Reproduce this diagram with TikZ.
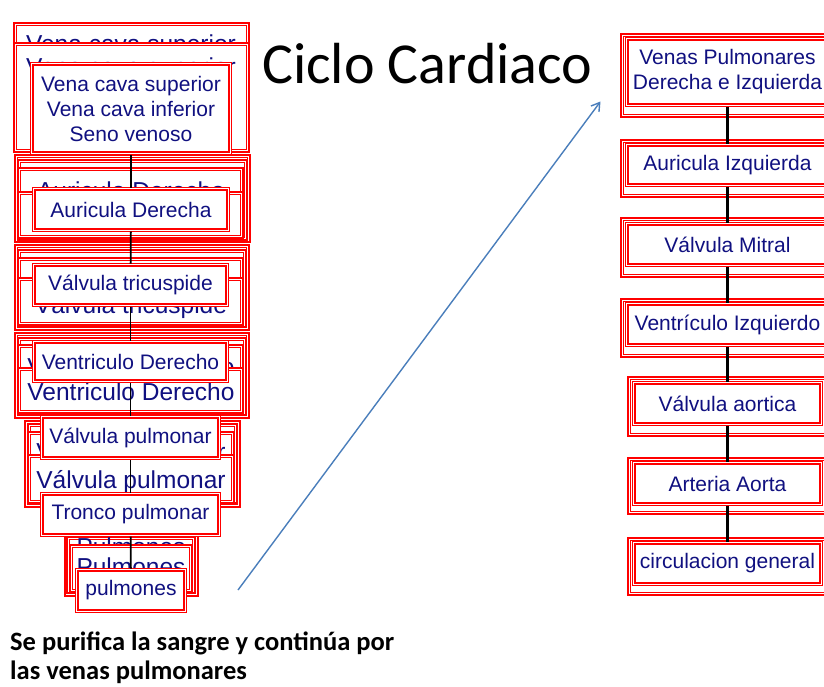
\documentclass[tikz,border=0pt]{standalone}
\usepackage{fontspec}
\setmainfont{Liberation Sans}
\newfontfamily\calibri{Carlito}
\usetikzlibrary{arrows.meta,fit}
\definecolor{boxred}{RGB}{255,0,0}
\definecolor{navytext}{RGB}{16,16,128}
\definecolor{arrowblue}{RGB}{74,126,187}
\newcommand\ghostrect[5]{%
  \node[ghostbox, fit={(#2,#3) (#4,#5)}] (#1) {};
  \node[ghostin, fit=(#1)] (#1-in) {};}
\newcommand\mainnode[5]{%
  \node[mainbox, minimum width=#3, minimum height=#4] (#1) at #2 {#5};
  \node[innerframe, fit=(#1)] (#1-in) {};}
\begin{document}
\begin{tikzpicture}[x=1pt,y=-1pt,
  ghostbox/.style={rectangle, draw=boxred, line width=1.2pt, fill=white, inner sep=0pt, outer sep=0pt},
  ghostin/.style={rectangle, draw=boxred, line width=1.2pt, inner sep=-2.5pt, outer sep=0pt},
  mainbox/.style={rectangle, draw=boxred, line width=1.2pt, fill=white, outer sep=0pt,
    text=navytext, font=\fontsize{21}{25}\selectfont, align=center, inner sep=0pt},
  innerframe/.style={rectangle, draw=boxred, line width=2pt, inner sep=-2.8pt, outer sep=0pt},
  ghosttext/.style={text=navytext, font=\fontsize{24.5}{29}\selectfont, anchor=base, inner sep=0pt},
  linkL/.style={draw=black, line width=1.8pt},
  linkR/.style={draw=black, line width=2.4pt},
]
\useasboundingbox (0,0) rectangle (824,686);

% ---------- left column ghosts ----------
% group 1
\ghostrect{a1}{14}{23}{249}{152}
\node[ghosttext] (g1a) at (131,52.5) {Vena cava superior};
\ghostrect{a2}{14}{43}{249}{152}
\node[ghosttext] (g1b) at (131,75.5) {Vena cava superior};
% group 2
\ghostrect{b1}{15}{155}{250}{242}
\ghostrect{b2}{18}{160}{247}{240}
\ghostrect{b3}{18}{168}{243}{238}
\node[ghosttext] (g2a) at (131,199.5) {Auricula Derecha};
\ghostrect{b4}{18}{192}{243}{238}
% group 3
\ghostrect{c1}{15}{245}{249}{330}
\ghostrect{c2}{18}{250}{246}{327}
\ghostrect{c3}{18}{258}{243}{325}
\ghostrect{c4}{18}{278}{243}{325}
\node[ghosttext] (g3a) at (131,313) {Válvula tricuspide};
% group 4
\ghostrect{d1}{15}{333}{249}{418}
\ghostrect{d2}{18}{338}{246}{415}
\ghostrect{d3}{18}{345}{243}{413}
\node[ghosttext] (g4a) at (131,375.5) {Ventriculo Derecho};
\ghostrect{d4}{18}{368}{243}{413}
\node[ghosttext] (g4b) at (131,400) {Ventriculo Derecho};
% group 5
\ghostrect{e1}{25}{421}{240}{507}
\ghostrect{e2}{28}{424}{237}{503}
\ghostrect{e3}{28}{432}{234}{503}
\node[ghosttext] (g5a) at (131,460.5) {Válvula pulmonar};
\ghostrect{e4}{28}{455}{234}{503}
\node[ghosttext] (g5b) at (131,488) {Válvula pulmonar};
% group 7
\ghostrect{f1}{65}{532}{198}{596}
\ghostrect{f2}{67}{537}{195}{593}
\node[ghosttext] (g7a) at (131,555) {Pulmones};
\ghostrect{f3}{70}{545}{192}{592}
\node[ghosttext] (g7b) at (131,575) {Pulmones};

% ---------- right column ghosts ----------
\ghostrect{h1}{621}{34}{840}{117}
\ghostrect{h2}{621}{140}{840}{197}
\ghostrect{h3}{621}{218}{840}{277}
\ghostrect{h4}{621}{299}{840}{357}
\ghostrect{h5}{628}{377}{840}{436}
\ghostrect{h6}{628}{458}{840}{514}
\ghostrect{h7}{628}{538}{840}{595}

% ---------- main boxes left ----------
\mainnode{l1}{(131,108.5)}{201pt}{92pt}{Vena cava superior\\Vena cava inferior\\Seno venoso}
\mainnode{l2}{(131,209.5)}{197pt}{44pt}{Auricula Derecha}
\mainnode{l3}{(130.5,285)}{196pt}{43pt}{Válvula tricuspide}
\mainnode{l4}{(130.5,361.5)}{196pt}{42pt}{Ventriculo Derecho}
\mainnode{l5}{(130.5,437.5)}{180pt}{44pt}{Válvula pulmonar}
\mainnode{l6}{(130.5,514.5)}{180pt}{44pt}{Tronco pulmonar}
\mainnode{l7}{(131,590.5)}{111pt}{44pt}{pulmones}

% ---------- main boxes right ----------
\mainnode{r1}{(727.5,72)}{204pt}{69pt}{Venas Pulmonares\\Derecha e Izquierda}
\mainnode{r2}{(727.5,165)}{204pt}{43pt}{Auricula Izquierda}
\mainnode{r3}{(727.5,244.5)}{204pt}{44pt}{Válvula Mitral}
\mainnode{r4}{(727.5,324.5)}{204pt}{44pt}{Ventrículo Izquierdo}
\mainnode{r5}{(727.5,403.5)}{190pt}{44pt}{Válvula aortica}
\mainnode{r6}{(727.5,483.5)}{190pt}{44pt}{Arteria Aorta}
\mainnode{r7}{(727.5,563.5)}{190pt}{44pt}{circulacion general}

% ---------- connectors ----------
\draw[linkL] (l1) -- (l2);
\draw[linkL] (l2) -- (l3);
\draw[linkL] (l3) -- (l4);
\draw[linkL] (l4) -- (l5);
\draw[linkL] (l5) -- (l6);
\draw[linkL] (l6) -- (l7);
\draw[linkR] (r1) -- (r2);
\draw[linkR] (r2) -- (r3);
\draw[linkR] (r3) -- (r4);
\draw[linkR] (r4) -- (r5);
\draw[linkR] (r5) -- (r6);
\draw[linkR] (r6) -- (r7);

\coordinate (arrS) at (238,590);
\coordinate (arrE) at (600.5,101.5);
\draw[arrowblue, line width=1.4pt, -{Straight Barb[length=8pt,width=10pt]}] (arrS) -- (arrE);

% ---------- texts ----------
\node[anchor=base west, inner sep=0pt, font=\calibri\fontsize{58}{60}\selectfont] (title) at (262,83) {Ciclo Cardiaco};
\node[anchor=base west, inner sep=0pt, font=\calibri\bfseries\fontsize{26.5}{28}\selectfont] (note1) at (10,650) {Se purifica la sangre y continúa por};
\node[anchor=base west, inner sep=0pt, font=\calibri\bfseries\fontsize{26.5}{28}\selectfont] (note2) at (10,679) {las venas pulmonares};
\end{tikzpicture}
\end{document}
